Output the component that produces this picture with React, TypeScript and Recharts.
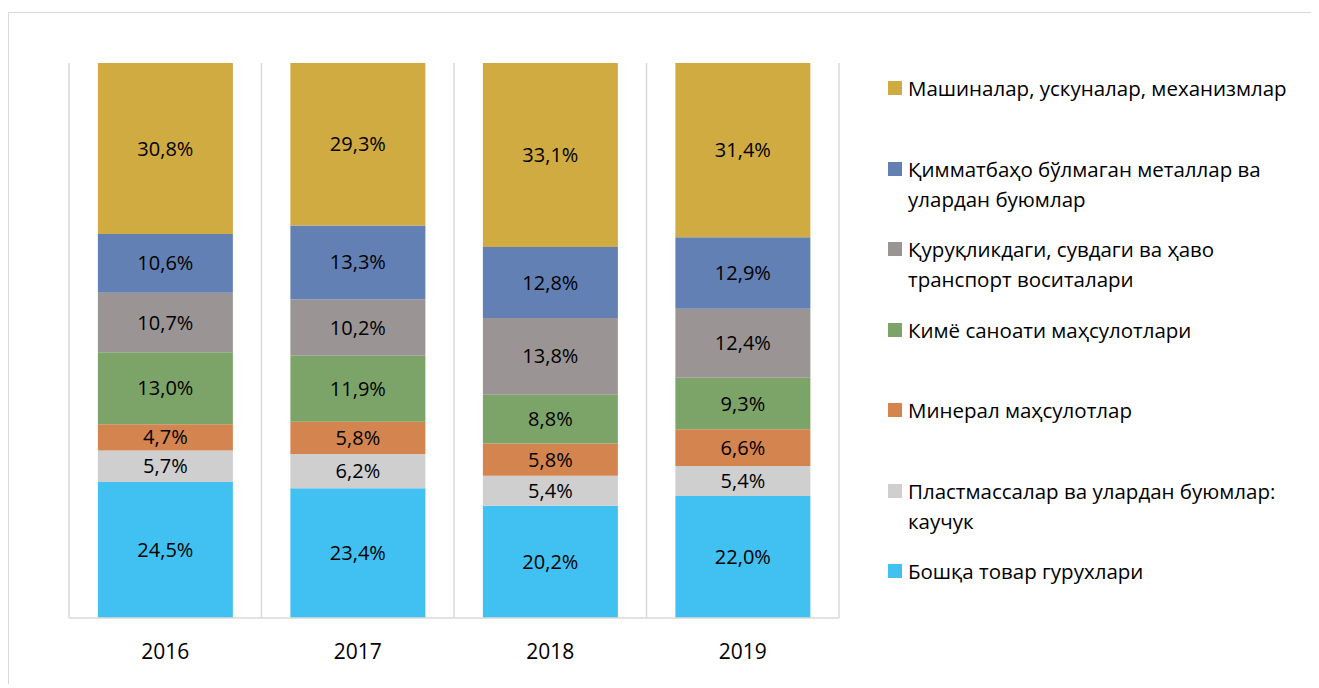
import { BarChart, Bar, XAxis, YAxis, CartesianGrid, LabelList } from 'recharts'

const years = ['2016', '2017', '2018', '2019']

// bottom to top in each bar
const boshqa = [24.5, 23.4, 20.2, 22.0]
const plastmassa = [5.7, 6.2, 5.4, 5.4]
const mineral = [4.7, 5.8, 5.8, 6.6]
const kimyo = [13.0, 11.9, 8.8, 9.3]
const transport = [10.7, 10.2, 13.8, 12.4]
const metallar = [10.6, 13.3, 12.8, 12.9]
const mashinalar = [30.8, 29.3, 33.1, 31.4]

const series = [
  { key: 'boshqa', name: 'Бошқа товар гурухлари', color: '#40C1F2', values: boshqa },
  { key: 'plastmassa', name: 'Пластмассалар ва улардан буюмлар:\nкаучук', color: '#CFCFCF', values: plastmassa },
  { key: 'mineral', name: 'Минерал маҳсулотлар', color: '#D4844E', values: mineral },
  { key: 'kimyo', name: 'Кимё саноати маҳсулотлари', color: '#7DA468', values: kimyo },
  { key: 'transport', name: 'Қуруқликдаги, сувдаги ва ҳаво\nтранспорт воситалари', color: '#9A9594', values: transport },
  { key: 'metallar', name: 'Қимматбаҳо бўлмаган металлар ва\nулардан буюмлар', color: '#6280B4', values: metallar },
  { key: 'mashinalar', name: 'Машиналар, ускуналар, механизмлар', color: '#D0AB41', values: mashinalar },
]

const data = years.map((year, i) => {
  const row: Record<string, string | number> = { year }
  series.forEach(s => { row[s.key] = s.values[i] })
  return row
})

const font = '"Open Sans", sans-serif'
const fmt = (v: number) => v.toFixed(1).replace('.', ',') + '%'

export default function App() {
  const legendItems = [...series].reverse()
  return (
    <div
      style={{
        position: 'relative',
        marginTop: 4,
        width: 1320,
        height: 672,
        borderTop: '1px solid #D9D9D9',
        borderLeft: '1px solid #D9D9D9',
        fontFamily: font,
        boxSizing: 'border-box',
      }}
    >
      <style>{'html, body { overflow: hidden; }'}</style>
      <BarChart
        width={832}
        height={660}
        data={data}
        stackOffset="expand"
        barCategoryGap="15%"
        margin={{ top: 50, right: 2, left: 60, bottom: 15 }}
      >
        <CartesianGrid
          horizontal={false}
          stroke="#D9D9D9"
          strokeWidth={1.5}
          verticalCoordinatesGenerator={({ offset }: any) =>
            [0, 1, 2, 3, 4].map(i => offset.left + (i * offset.width) / 4)
          }
        />
        <XAxis
          dataKey="year"
          axisLine={{ stroke: '#D9D9D9', strokeWidth: 1.5 }}
          tickLine={false}
          height={40}
          tickMargin={20}
          tick={{ fill: '#000', fontSize: 21, fontFamily: font }}
        />
        <YAxis hide domain={[0, 1]} />
        {series.map(s => (
          <Bar key={s.key} dataKey={s.key} stackId="a" fill={s.color} isAnimationActive={false}>
            <LabelList
              dataKey={s.key}
              position="center"
              formatter={(v: any) => fmt(Number(v))}
              style={{ fill: '#000', fontSize: 20, fontFamily: font }}
            />
          </Bar>
        ))}
      </BarChart>
      <div style={{ position: 'absolute', left: 879, top: 62 }}>
        {legendItems.map(s => (
          <div key={s.key} style={{ position: 'relative', height: 80.5 }}>
            <div
              style={{
                position: 'absolute',
                left: 0,
                top: 6,
                width: 14,
                height: 14,
                background: s.color,
              }}
            />
            <div
              style={{
                position: 'absolute',
                left: 20,
                top: -2,
                fontSize: 20.5,
                lineHeight: '30px',
                whiteSpace: 'pre',
                color: '#000',
              }}
            >
              {s.name}
            </div>
          </div>
        ))}
      </div>
    </div>
  )
}
